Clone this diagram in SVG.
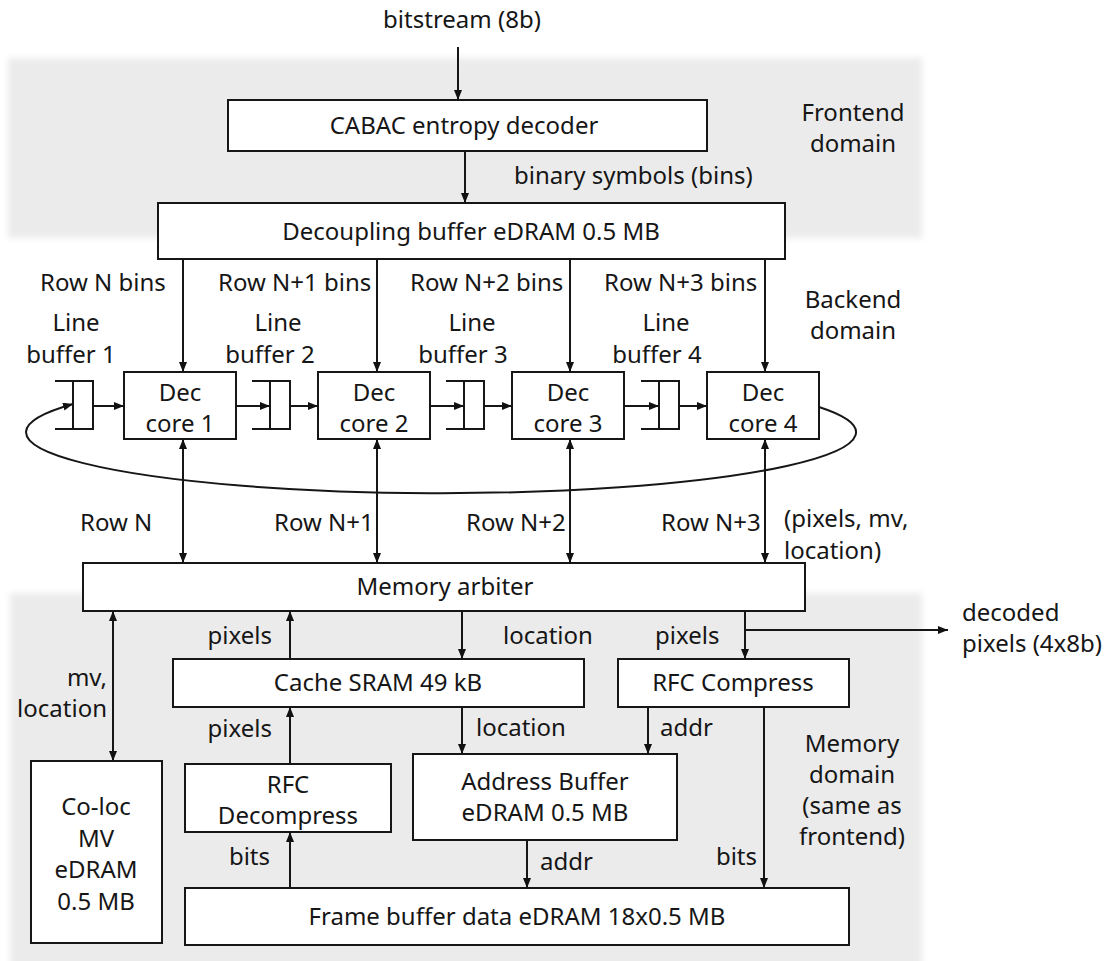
<svg xmlns="http://www.w3.org/2000/svg" width="1104" height="961" viewBox="0 0 1104 961">
  <defs>
    <marker id="ah" viewBox="0 0 10 8" refX="10" refY="4" markerWidth="10" markerHeight="8" markerUnits="userSpaceOnUse" orient="auto-start-reverse">
      <path d="M0,0 L10,4 L0,8 z" fill="#111"/>
    </marker>
    <filter id="soft" x="-5%" y="-5%" width="110%" height="110%">
      <feGaussianBlur stdDeviation="3"/>
    </filter>
  </defs>
  <style>
    text { font-family: "Noto Sans", "Open Sans", sans-serif; font-size: 24px; fill: #161616; }
    .m { text-anchor: middle; }
    .e { text-anchor: end; }
    .box { fill: #fff; stroke: #161616; stroke-width: 2; }
    .w { fill: none; stroke: #161616; stroke-width: 2; }
    .a { fill: none; stroke: #161616; stroke-width: 2; marker-end: url(#ah); }
    .b { fill: none; stroke: #161616; stroke-width: 2; marker-start: url(#ah); marker-end: url(#ah); }
  </style>

  <rect width="1104" height="961" fill="#fff"/>

  <!-- clock-domain shading -->
  <g id="domains" filter="url(#soft)">
    <rect x="8" y="58" width="914" height="180" fill="#ebebeb"/>
    <rect x="10" y="593" width="912" height="380" fill="#ebebeb"/>
  </g>

  <!-- connectors -->
  <g id="connectors">
    <line class="a" x1="458" y1="47" x2="458" y2="100"/>
    <line class="a" x1="465" y1="151" x2="465" y2="203"/>

    <line class="a" x1="183" y1="259" x2="183" y2="372"/>
    <line class="a" x1="377" y1="259" x2="377" y2="372"/>
    <line class="a" x1="570" y1="259" x2="570" y2="372"/>
    <line class="a" x1="765" y1="259" x2="765" y2="372"/>

    <!-- line buffer to core and core to line buffer -->
    <line class="a" x1="93" y1="406" x2="124" y2="406"/>
    <line class="a" x1="236" y1="406" x2="270" y2="406"/>
    <line class="a" x1="290" y1="406" x2="318" y2="406"/>
    <line class="a" x1="430" y1="406" x2="464" y2="406"/>
    <line class="a" x1="484" y1="406" x2="512" y2="406"/>
    <line class="a" x1="624" y1="406" x2="659" y2="406"/>
    <line class="a" x1="679" y1="406" x2="707" y2="406"/>

    <!-- wrap-around from core 4 back to line buffer 1 -->
    <path class="a" d="M819,407 A415,61 0 1 1 73,404"/>

    <line class="b" x1="183" y1="439" x2="183" y2="563"/>
    <line class="b" x1="377" y1="439" x2="377" y2="563"/>
    <line class="b" x1="570" y1="439" x2="570" y2="563"/>
    <line class="b" x1="765" y1="439" x2="765" y2="563"/>

    <line class="b" x1="113" y1="611" x2="113" y2="761"/>
    <line class="a" x1="290" y1="659" x2="290" y2="611"/>
    <line class="a" x1="462" y1="611" x2="462" y2="659"/>
    <line class="a" x1="745" y1="611" x2="745" y2="659"/>
    <line class="a" x1="745" y1="630" x2="948" y2="630"/>

    <line class="a" x1="290" y1="764" x2="290" y2="707"/>
    <line class="a" x1="462" y1="707" x2="462" y2="754"/>
    <line class="a" x1="648" y1="707" x2="648" y2="754"/>
    <line class="a" x1="764" y1="707" x2="764" y2="888"/>
    <line class="a" x1="527" y1="840" x2="527" y2="888"/>
    <line class="a" x1="290" y1="888" x2="290" y2="832"/>
  </g>

  <!-- connector labels -->
  <g id="labels">
    <text class="m" x="462" y="28">bitstream (8b)</text>
    <text x="514" y="184">binary symbols (bins)</text>
    <text x="40" y="291">Row N bins</text>
    <text x="218" y="291">Row N+1 bins</text>
    <text x="410" y="291">Row N+2 bins</text>
    <text x="604" y="291">Row N+3 bins</text>
    <text x="80" y="531">Row N</text>
    <text x="274" y="531">Row N+1</text>
    <text x="466" y="531">Row N+2</text>
    <text x="661" y="531">Row N+3</text>
    <text x="784" y="527">(pixels, mv,</text>
    <text x="784" y="559">location)</text>
    <text class="e" x="107" y="686">mv,</text>
    <text class="e" x="107" y="717">location</text>
    <text class="e" x="272" y="644">pixels</text>
    <text x="503" y="644">location</text>
    <text x="655" y="644">pixels</text>
    <text x="962" y="621">decoded</text>
    <text x="962" y="652">pixels (4x8b)</text>
    <text class="e" x="272" y="737">pixels</text>
    <text x="476" y="736">location</text>
    <text x="660" y="736">addr</text>
    <text x="540" y="870">addr</text>
    <text class="e" x="270" y="865">bits</text>
    <text class="e" x="757" y="865">bits</text>
  </g>

  <!-- domain names -->
  <g id="domain-names">
    <text class="m" x="853" y="121">Frontend</text>
    <text class="m" x="853" y="152">domain</text>
    <text class="m" x="853" y="308">Backend</text>
    <text class="m" x="853" y="339">domain</text>
    <text class="m" x="852" y="752">Memory</text>
    <text class="m" x="852" y="783">domain</text>
    <text class="m" x="852" y="814">(same as</text>
    <text class="m" x="852" y="845">frontend)</text>
  </g>

  <g id="cabac">
    <rect class="box" x="228" y="100" width="479" height="51"/>
    <text class="m" x="464" y="134">CABAC entropy decoder</text>
  </g>

  <g id="decoupling-buffer">
    <rect class="box" x="158" y="203" width="627" height="56"/>
    <text class="m" x="471" y="240">Decoupling buffer eDRAM 0.5 MB</text>
  </g>

  <g id="line-buffer-1">
    <text class="m" x="76" y="331">Line</text>
    <text class="m" x="71" y="363">buffer 1</text>
    <path class="w" d="M55,381 H93 V429 H55 M73,381 V429"/>
  </g>
  <g id="line-buffer-2">
    <text class="m" x="278" y="331">Line</text>
    <text class="m" x="270" y="363">buffer 2</text>
    <path class="w" d="M252,381 H290 V429 H252 M270,381 V429"/>
  </g>
  <g id="line-buffer-3">
    <text class="m" x="472" y="331">Line</text>
    <text class="m" x="463" y="363">buffer 3</text>
    <path class="w" d="M446,381 H484 V429 H446 M464,381 V429"/>
  </g>
  <g id="line-buffer-4">
    <text class="m" x="666" y="331">Line</text>
    <text class="m" x="657" y="363">buffer 4</text>
    <path class="w" d="M641,381 H679 V429 H641 M659,381 V429"/>
  </g>

  <g id="dec-core-1">
    <rect class="box" x="124" y="372" width="112" height="67"/>
    <text class="m" x="180" y="401">Dec</text>
    <text class="m" x="180" y="432">core 1</text>
  </g>
  <g id="dec-core-2">
    <rect class="box" x="318" y="372" width="112" height="67"/>
    <text class="m" x="374" y="401">Dec</text>
    <text class="m" x="374" y="432">core 2</text>
  </g>
  <g id="dec-core-3">
    <rect class="box" x="512" y="372" width="112" height="67"/>
    <text class="m" x="568" y="401">Dec</text>
    <text class="m" x="568" y="432">core 3</text>
  </g>
  <g id="dec-core-4">
    <rect class="box" x="707" y="372" width="112" height="67"/>
    <text class="m" x="763" y="401">Dec</text>
    <text class="m" x="763" y="432">core 4</text>
  </g>

  <g id="memory-arbiter">
    <rect class="box" x="83" y="563" width="722" height="48"/>
    <text class="m" x="445" y="595">Memory arbiter</text>
  </g>

  <g id="cache-sram">
    <rect class="box" x="173" y="659" width="411" height="48"/>
    <text class="m" x="378" y="691">Cache SRAM 49 kB</text>
  </g>

  <g id="rfc-compress">
    <rect class="box" x="618" y="659" width="231" height="48"/>
    <text class="m" x="733" y="691">RFC Compress</text>
  </g>

  <g id="co-loc-mv">
    <rect class="box" x="31" y="761" width="131" height="182"/>
    <text class="m" x="96" y="815">Co-loc</text>
    <text class="m" x="96" y="847">MV</text>
    <text class="m" x="96" y="878">eDRAM</text>
    <text class="m" x="96" y="910">0.5 MB</text>
  </g>

  <g id="rfc-decompress">
    <rect class="box" x="185" y="764" width="206" height="68"/>
    <text class="m" x="288" y="793">RFC</text>
    <text class="m" x="288" y="824">Decompress</text>
  </g>

  <g id="address-buffer">
    <rect class="box" x="413" y="754" width="264" height="86"/>
    <text class="m" x="545" y="790">Address Buffer</text>
    <text class="m" x="545" y="821">eDRAM 0.5 MB</text>
  </g>

  <g id="frame-buffer">
    <rect class="box" x="185" y="888" width="664" height="57"/>
    <text class="m" x="517" y="925">Frame buffer data eDRAM 18x0.5 MB</text>
  </g>
</svg>
